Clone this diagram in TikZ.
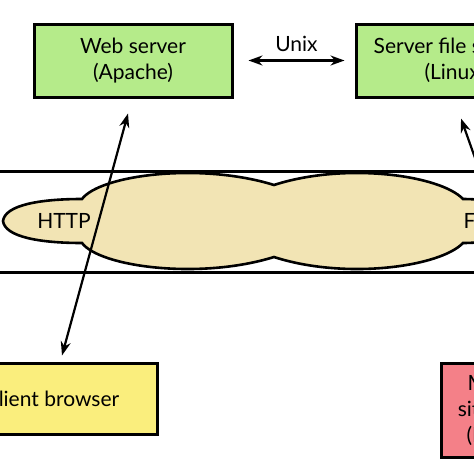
\documentclass[tikz,border=0pt]{standalone}
\usepackage{fontspec}
\setmainfont{Lato}
\usetikzlibrary{arrows.meta}
\tikzset{>=stealth}
\definecolor{servergreen}{RGB}{181,235,138}
\definecolor{clientyellow}{RGB}{250,238,125}
\definecolor{sitered}{RGB}{244,128,136}
\definecolor{netbeige}{RGB}{242,228,180}

\begin{document}
\begin{tikzpicture}[x=1pt, y=-1pt,
	box/.style = {draw, line width=3pt, align=center, inner sep=0pt, font=\fontsize{21}{26}\selectfont},
	link/.style = {<->, > = {Stealth[length=14pt, width=10pt]}, line width=2.2pt}]
	\useasboundingbox (0,0) rectangle (474,474);
	\clip (0,0) rectangle (474,474);
	% the network cloud and its band
	\draw [fill = netbeige, line width=2.6pt] (3,221) .. controls (5,205) and (40,199) .. (82,199)
		.. controls (100,175) and (200,162) .. (274,185)
		.. controls (345,162) and (440,175) .. (463,199)
		.. controls (490,199) and (520,205) .. (522,221)
		.. controls (520,237) and (490,243) .. (463,243)
		.. controls (440,267) and (345,280) .. (274,257)
		.. controls (200,280) and (100,267) .. (82,243)
		.. controls (40,243) and (5,237) .. (3,221) -- cycle;
	\draw [line width=3pt] (0,171) -- (474,171);
	\draw [line width=3pt] (0,272) -- (474,272);
	\node (http) at (64,221) [font=\fontsize{21}{26}\selectfont] {HTTP};
	\node (ftp) at (482,221) [font=\fontsize{21}{26}\selectfont] {FTP};
	% the machines
	\node (web) at (133,60.5) [box, fill = servergreen, minimum width=198pt, minimum height=73pt] {Web server\\(Apache)};
	\node (files) at (455,60.5) [box, fill = servergreen, minimum width=198pt, minimum height=73pt] {Server file system\\(Linux)};
	\node (client) at (52,398.5) [box, fill = clientyellow, minimum width=210pt, minimum height=71pt] {Client browser};
	\node (remote) at (497,410) [box, fill = sitered, minimum width=112pt, minimum height=94pt] {Mirror\\site host\\(Linux)};
	\coordinate (farend) at (548,363);
	% connections
	\draw [link] ([xshift=15pt]web.east) -- node[above=4pt, font=\fontsize{21}{26}\selectfont] (unix) {Unix} ([xshift=-10pt]files.west);
	\draw [link] ([shift={(-5,15)}]web.south) -- ([shift={(10,-6)}]client.north);
	\draw [link] ([shift={(6,20)}]files.south) -- (farend);
\end{tikzpicture}
\end{document}
